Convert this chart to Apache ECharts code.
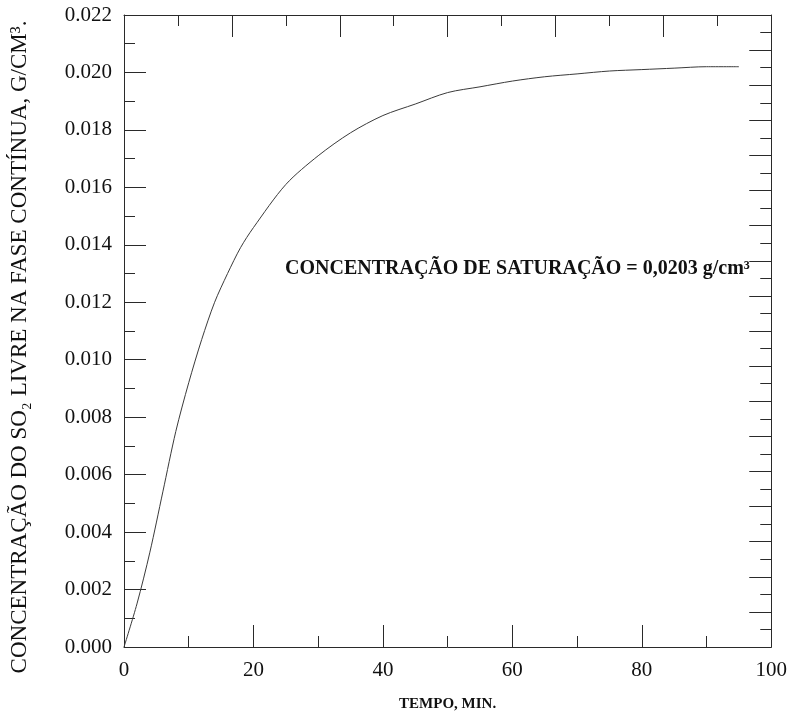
<!DOCTYPE html>
<html>
<head>
<meta charset="utf-8">
<script src="https://cdn.jsdelivr.net/npm/echarts@6/dist/echarts.min.js"></script>
<style>
  html, body { margin: 0; padding: 0; background: #ffffff; }
  #chart { width: 790px; height: 719px; }
</style>
</head>
<body>
<div id="chart"></div>
<script>
// Time (min) and free SO2 concentration in the continuous phase (g/cm3)
var tempoMin = [0, 2, 4, 6, 8, 10, 12, 14, 16, 18, 20, 25, 30, 35, 40, 45, 50, 55, 60, 65, 70, 75, 80, 85, 90, 95];
var concentracao = [0, 0.0015, 0.0033, 0.0054, 0.0075, 0.0092, 0.0107, 0.0120, 0.0130, 0.0139, 0.0146,
  0.0161, 0.0171, 0.0179, 0.0185, 0.0189, 0.0193, 0.0195, 0.0197, 0.01985, 0.01995, 0.02005, 0.0201, 0.02015, 0.0202, 0.0202];
var saturacao = 0.0203;

var xTicks = [0, 20, 40, 60, 80, 100];
var yTicks = [0, 0.002, 0.004, 0.006, 0.008, 0.010, 0.012, 0.014, 0.016, 0.018, 0.020, 0.022];

var serif = "'Liberation Serif', 'Times New Roman', serif";
var ink = '#2a2a2a';

var pontos = tempoMin.map(function (t, i) { return [t, concentracao[i]]; });

var chart = echarts.init(document.getElementById('chart'), null, { renderer: 'canvas' });

function frameAxis(extra) {
  var base = {
    type: 'value',
    axisLine: { show: true, onZero: false, lineStyle: { color: ink, width: 1 } },
    axisTick: { show: true, inside: true, length: 22, lineStyle: { color: ink, width: 1 } },
    minorTick: { show: true, splitNumber: 2, length: 11, lineStyle: { color: ink, width: 1 } },
    splitLine: { show: false },
    minorSplitLine: { show: false }
  };
  return Object.assign(base, extra);
}

chart.setOption({
  animation: false,
  backgroundColor: '#ffffff',
  grid: { left: 124, top: 15, width: 649, height: 632, containLabel: false },
  xAxis: [
    frameAxis({
      position: 'bottom',
      min: xTicks[0], max: xTicks[xTicks.length - 1], interval: xTicks[1] - xTicks[0],
      axisLabel: { show: true, margin: 13, color: '#111', fontFamily: serif, fontSize: 21 },
      name: 'TEMPO, MIN.',
      nameLocation: 'middle',
      nameGap: 50,
      nameTextStyle: { color: '#111', fontFamily: serif, fontSize: 15, fontWeight: 'bold' }
    }),
    frameAxis({
      position: 'top',
      min: 0, max: 100, interval: 100 / 6,
      axisLabel: { show: false }
    })
  ],
  yAxis: [
    frameAxis({
      position: 'left',
      min: yTicks[0], max: yTicks[yTicks.length - 1], interval: 0.002,
      axisLabel: {
        show: true, margin: 12, color: '#111', fontFamily: serif, fontSize: 21,
        formatter: function (v) { return v.toFixed(3); }
      },
      name: 'CONCENTRAÇÃO DO SO₂ LIVRE NA FASE CONTÍNUA, G/CM³.',
      nameLocation: 'middle',
      nameRotate: 90,
      nameGap: 93,
      nameTextStyle: { color: '#111', fontFamily: serif, fontSize: 23, padding: [0, 32, 0, 0] }
    }),
    frameAxis({
      position: 'right',
      min: 0, max: 0.022, interval: 0.022 / 18,
      axisLabel: { show: false }
    })
  ],
  graphic: [{
    type: 'text',
    left: 285,
    top: 259,
    style: {
      text: 'CONCENTRAÇÃO DE SATURAÇÃO = ' + saturacao.toFixed(4).replace('.', ',') + ' g/cm³',
      fontFamily: serif,
      fontSize: 20,
      fontWeight: 'bold',
      fill: '#111'
    }
  }],
  series: [{
    type: 'line',
    xAxisIndex: 0,
    yAxisIndex: 0,
    data: pontos,
    smooth: 0.3,
    showSymbol: false,
    lineStyle: { color: '#3a3a3a', width: 1 }
  }]
});
</script>
</body>
</html>
